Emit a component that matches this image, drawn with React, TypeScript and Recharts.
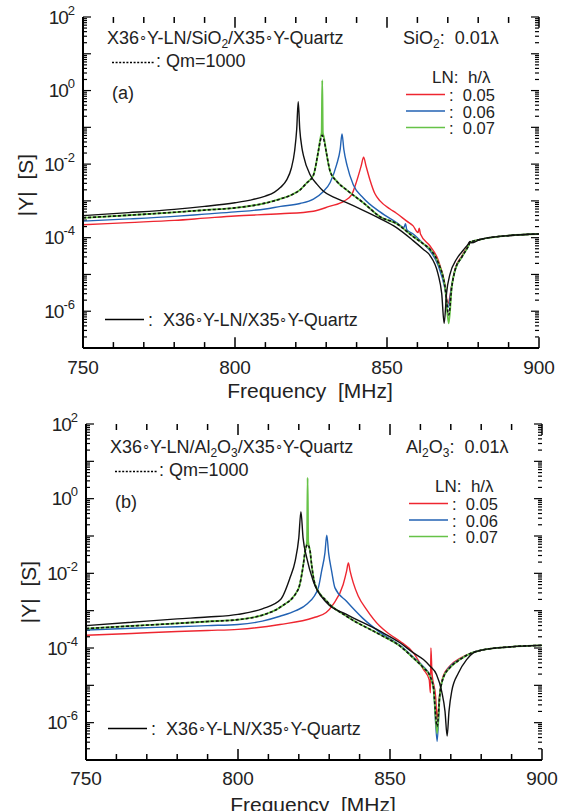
import React from "react";
import { LineChart, Line, XAxis, YAxis, ReferenceLine } from "recharts";

// panel (a): X36Y-LN / SiO2 / X35Y-Quartz   (log10 |Y| in S)
const fA_black = [750, 765, 780, 790, 800, 805, 810, 813, 815, 817, 818.5, 819.6, 820.3, 820.8, 821.3, 822, 822.5, 824.7, 827, 829, 833, 836.7, 842, 847.7, 853, 858.6, 862, 864.1, 866.8, 868, 868.8, 869.6, 870.7, 872.9, 875, 876.8, 877.3, 877.8, 880.6, 890.5, 900];
const lgA_black = [-3.4, -3.32, -3.23, -3.15, -3.05, -2.98, -2.87, -2.76, -2.63, -2.43, -2.12, -1.65, -1.05, -0.3, -1.05, -1.55, -1.76, -2.29, -2.55, -2.73, -2.92, -3.05, -3.25, -3.48, -3.72, -4.08, -4.32, -4.48, -4.99, -5.52, -6.33, -5.5, -5.0, -4.58, -4.35, -4.16, -4.1, -4.14, -4.05, -3.94, -3.9];

const fA_07 = [750, 765, 780, 790, 800, 810, 815.9, 819, 821.4, 823.5, 825.8, 827.4, 828.2, 828.5, 828.7, 828.9, 829.2, 830, 831.3, 833.5, 836.7, 842.2, 847.7, 853.2, 858.6, 862, 864.1, 866.8, 869.1, 870.3, 871.3, 872.4, 874.6, 876.8, 877.3, 880.6, 890.5, 900];
const lgA_07 = [-3.46, -3.39, -3.31, -3.25, -3.19, -3.06, -2.92, -2.82, -2.7, -2.52, -2.3, -1.66, -1.25, -1.15, 0.28, -1.15, -1.25, -1.66, -2.2, -2.47, -2.7, -3.05, -3.43, -3.62, -3.97, -4.17, -4.31, -4.67, -5.34, -6.33, -5.34, -4.88, -4.53, -4.22, -4.13, -4.05, -3.94, -3.9];

const fA_qm = [750, 765, 780, 790, 800, 810, 815.9, 819, 821.4, 823.5, 825.8, 827.4, 828.2, 828.7, 829.2, 830, 831.3, 833.5, 836.7, 842.2, 847.7, 853.2, 858.6, 862, 864.1, 866.8, 869.1, 870.3, 871.3, 872.4, 874.6, 876.8, 877.3, 880.6, 890.5, 900];
const lgA_qm = [-3.46, -3.39, -3.31, -3.25, -3.19, -3.06, -2.92, -2.82, -2.7, -2.52, -2.3, -1.66, -1.32, -1.22, -1.32, -1.66, -2.2, -2.47, -2.7, -3.05, -3.43, -3.62, -3.97, -4.17, -4.31, -4.67, -5.34, -6.1, -5.34, -4.88, -4.53, -4.22, -4.13, -4.05, -3.94, -3.9];

const fA_06 = [750, 765, 780, 790, 800, 810, 815, 821.4, 825.8, 829, 831.3, 833.4, 834.6, 835.2, 835.8, 836.9, 838.9, 842.2, 847.7, 853, 855.6, 856.1, 856.5, 858.6, 862, 864.1, 866.8, 869.1, 870.1, 871.3, 872.4, 874.6, 876.8, 877.3, 880.6, 890.5, 900];
const lgA_06 = [-3.55, -3.49, -3.42, -3.36, -3.3, -3.22, -3.15, -3.07, -2.95, -2.75, -2.5, -2.02, -1.6, -1.18, -1.6, -2.05, -2.56, -2.92, -3.3, -3.58, -3.72, -3.62, -3.78, -3.9, -4.17, -4.35, -4.75, -5.4, -5.9, -5.3, -4.88, -4.53, -4.22, -4.13, -4.05, -3.94, -3.9];

const fA_05 = [750, 765, 780, 790, 800, 815, 825.8, 831, 836, 838.4, 840, 841.5, 842.3, 843.1, 844.4, 846, 847.7, 851, 853, 856.5, 858.6, 860.2, 860.6, 861, 864.1, 866.8, 869.1, 870, 871.3, 872.4, 874.6, 876.8, 877.3, 880.6, 890.5, 900];
const lgA_05 = [-3.65, -3.59, -3.53, -3.47, -3.41, -3.35, -3.28, -3.15, -3.0, -2.83, -2.47, -2.05, -1.81, -2.05, -2.43, -2.8, -3.0, -3.22, -3.33, -3.55, -3.68, -3.86, -3.74, -3.9, -4.22, -4.6, -5.3, -5.8, -5.3, -4.85, -4.5, -4.2, -4.13, -4.05, -3.94, -3.9];

// panel (b): X36Y-LN / Al2O3 / X35Y-Quartz
const fB_black = [750, 765, 780, 790, 800, 808, 814, 817.1, 818.8, 820.0, 820.7, 821.4, 822.6, 824.8, 829.2, 835.7, 846.7, 853.3, 857.7, 861, 863.2, 865.3, 867, 868.1, 868.8, 869.4, 870.3, 872.5, 875.2, 877.4, 880, 889.5, 900];
const lgB_black = [-3.4, -3.31, -3.22, -3.17, -3.1, -2.95, -2.7, -2.12, -1.67, -1.05, -0.35, -1.05, -1.58, -2.22, -2.79, -3.1, -3.55, -3.86, -4.13, -4.31, -4.49, -4.71, -5.16, -5.7, -6.36, -5.7, -5.16, -4.67, -4.31, -4.13, -4.06, -3.97, -3.93];

const fB_07 = [750, 765, 780, 790, 800, 808, 814, 819.8, 821.5, 822.1, 822.7, 822.9, 823.1, 823.7, 824.2, 825.3, 829.2, 835.7, 846.7, 853.3, 857.7, 861, 863.2, 864.3, 865.5, 866.4, 867.5, 869.7, 873, 876.9, 880, 889.5, 900];
const lgB_07 = [-3.48, -3.41, -3.34, -3.29, -3.24, -3.12, -2.9, -2.43, -1.76, -1.4, -1.15, 0.56, -1.15, -1.4, -1.76, -2.29, -2.75, -3.15, -3.64, -3.95, -4.27, -4.53, -4.76, -5.07, -6.28, -5.24, -4.8, -4.53, -4.31, -4.13, -4.06, -3.97, -3.93];

const fB_qm = [750, 765, 780, 790, 800, 808, 814, 819.8, 821.5, 822.1, 822.9, 823.7, 824.2, 825.3, 829.2, 835.7, 846.7, 853.3, 857.7, 861, 863.2, 864.3, 865.5, 866.4, 867.5, 869.7, 873, 876.9, 880, 889.5, 900];
const lgB_qm = [-3.48, -3.41, -3.34, -3.29, -3.24, -3.12, -2.9, -2.43, -1.76, -1.4, -1.23, -1.4, -1.76, -2.29, -2.75, -3.15, -3.64, -3.95, -4.27, -4.53, -4.76, -5.07, -6.1, -5.24, -4.8, -4.53, -4.31, -4.13, -4.06, -3.97, -3.93];

const fB_06 = [750, 765, 780, 790, 800, 808, 813.8, 819, 822.6, 826.4, 827.5, 828.6, 829.2, 829.8, 830.8, 831.9, 835.7, 841, 846.7, 853.3, 857.7, 861, 863.2, 864.3, 865.5, 866.4, 867.5, 869.7, 873, 876.9, 880, 889.5, 900];
const lgB_06 = [-3.52, -3.47, -3.43, -3.4, -3.37, -3.28, -3.15, -3.0, -2.83, -2.39, -1.94, -1.45, -0.98, -1.45, -1.94, -2.39, -2.75, -3.2, -3.58, -3.93, -4.25, -4.5, -4.75, -5.05, -6.5, -5.24, -4.8, -4.5, -4.3, -4.13, -4.06, -3.97, -3.93];

const fB_05 = [750, 765, 780, 790, 800, 813.8, 824.8, 829, 831.3, 834.6, 835.7, 836.3, 836.9, 837.9, 839.5, 842.3, 846.7, 850, 853.3, 857.7, 861, 862.9, 863.3, 863.45, 863.8, 865.0, 865.5, 866.4, 867.5, 869.7, 873, 876.9, 880, 889.5, 900];
const lgB_05 = [-3.66, -3.61, -3.56, -3.53, -3.5, -3.37, -3.19, -3.05, -2.83, -2.3, -1.95, -1.72, -1.95, -2.25, -2.6, -2.97, -3.42, -3.64, -3.82, -4.13, -4.57, -4.85, -5.2, -4.0, -4.65, -5.3, -5.9, -5.2, -4.75, -4.48, -4.28, -4.13, -4.06, -3.97, -3.93];

const xMajor = [750, 800, 850, 900];
const xMinor = [760, 770, 780, 790, 810, 820, 830, 840, 860, 870, 880, 890];
const decades = [-7, -6, -5, -4, -3, -2, -1, 0, 1, 2];
const labelledExp = [2, 0, -2, -4, -6];

const RED = "#ee2630";
const BLUE = "#2262b3";
const GREEN = "#66c247";
const FONT = "'Liberation Sans', Arial, sans-serif";
const PRE = { whiteSpace: "pre" as const };

const X0 = 750, X1 = 900, Y0 = 1e-7, Y1 = 100;
const PX_PER_MHZ = 456 / 150;
const PX_PER_DECADE = 335 / 9;

const pts = (f: number[], lg: number[]) => f.map((v, i) => ({ f: v, y: 10 ** lg[i] }));

const yMajor = decades.map((d) => 10 ** d);
const yMinor: number[] = [];
decades.slice(0, -1).forEach((d) => {
  for (let m = 2; m <= 9; m++) yMinor.push(m * 10 ** d);
});

// inward frame ticks as short reference segments (length in px -> data units)
type Seg = { k: string; a: { x: number; y: number }; b: { x: number; y: number }; w: number };
const frameTicks: Seg[] = [];
const dy = (px: number) => 10 ** (px / PX_PER_DECADE);
const dx = (px: number) => px / PX_PER_MHZ;
[...xMajor.map((v) => [v, 11]), ...xMinor.map((v) => [v, 6])].forEach(([v, len]) => {
  frameTicks.push({ k: `xb${v}`, a: { x: v, y: Y0 }, b: { x: v, y: Y0 * dy(len) }, w: 1.5 });
  frameTicks.push({ k: `xt${v}`, a: { x: v, y: Y1 }, b: { x: v, y: Y1 / dy(len) }, w: 1.5 });
});
[...yMajor.map((v) => [v, 8]), ...yMinor.map((v) => [v, 4])].forEach(([v, len]) => {
  frameTicks.push({ k: `yl${v}`, a: { x: X0, y: v }, b: { x: X0 + dx(len), y: v }, w: 1.2 });
  frameTicks.push({ k: `yr${v}`, a: { x: X1, y: v }, b: { x: X1 - dx(len), y: v }, w: 1.2 });
});

const XLabel = (props: any) => {
  const { x, y, payload } = props;
  return (
    <text x={x} y={y} textAnchor="middle" fontSize={19} fontFamily={FONT} fill="#222">
      {payload.value}
    </text>
  );
};

const YLabel = (props: any) => {
  const { x, y, payload } = props;
  const e = Math.round(Math.log10(payload.value));
  if (!labelledExp.includes(e)) return <g />;
  return (
    <text x={x} y={y + 6.5} textAnchor="end" fontSize={19} fontFamily={FONT} fill="#222" letterSpacing={-1}>
      10
      <tspan dy={-9} fontSize={13} letterSpacing={0}>
        {e}
      </tspan>
    </text>
  );
};

const noTick = () => <g />;

function Panel({ series, margin, yWidth, height, labelDy }: any) {
  const axisLine = { stroke: "#000", strokeWidth: 2 };
  const xc = { type: "number" as const, dataKey: "f", domain: [X0, X1], allowDataOverflow: true, interval: 0 };
  const yc = { type: "number" as const, scale: "log" as const, domain: [Y0, Y1], allowDataOverflow: true, interval: 0 };
  return (
    <LineChart width={564} height={height} margin={margin}>
      <XAxis xAxisId="b" {...xc} ticks={xMajor} axisLine={axisLine} tickLine={false} tickSize={0}
        tickMargin={labelDy} height={labelDy + 26} tick={XLabel} />
      <XAxis xAxisId="t" orientation="top" {...xc} ticks={xMajor} axisLine={axisLine} tickLine={false} height={0} tick={noTick} />
      <YAxis yAxisId="l" {...yc} ticks={yMajor} axisLine={axisLine} tickLine={false} tickSize={0} tickMargin={8}
        width={yWidth} tick={YLabel} />
      <YAxis yAxisId="r" orientation="right" {...yc} ticks={yMajor} axisLine={axisLine} tickLine={false} width={0} tick={noTick} />
      {frameTicks.map((s) => (
        <ReferenceLine key={s.k} xAxisId="b" yAxisId="l" segment={[s.a, s.b]} stroke="#000" strokeWidth={s.w} ifOverflow="visible" />
      ))}
      {series.map((s: any) => (
        <Line key={s.name} xAxisId="b" yAxisId="l" data={s.data} dataKey="y" type="monotoneX" dot={false}
          stroke={s.color} strokeWidth={s.width} strokeDasharray={s.dash} isAnimationActive={false} />
      ))}
    </LineChart>
  );
}

// rich text: parts are [text, baseline level ("n" normal, "s" subscript, "r" ring)]
const LEVEL: Record<string, { shift: number; size?: number }> = {
  n: { shift: 0 },
  s: { shift: 4, size: 12 },
  r: { shift: -3, size: 13 },
};
function Rich({ parts }: { parts: [string, string][] }) {
  let prev = 0;
  return (
    <>
      {parts.map(([txt, lv], i) => {
        const L = LEVEL[lv];
        const d = L.shift - prev;
        prev = L.shift;
        return (
          <tspan key={i} dy={d} fontSize={L.size}>
            {txt}
          </tspan>
        );
      })}
    </>
  );
}

function Annotations({ ox, oy, mat, tag }: any) {
  const t = (x: number, y: number) => ({ x: x + ox, y: y + oy, style: PRE });
  const legend = [
    { c: RED, v: "0.05", y: 94.5 },
    { c: BLUE, v: "0.06", y: 111 },
    { c: GREEN, v: "0.07", y: 127.5 },
  ];
  return (
    <g fontFamily={FONT} fill="#222" fontSize={18}>
      <text {...t(107, 44)}>
        <Rich parts={[["X36", "n"], ["∘", "r"], ["Y-LN/", "n"], ...mat, ["/X35", "n"], ["∘", "r"], ["Y-Quartz", "n"]]} />
      </text>
      <text {...t(403, 44)}>
        <Rich parts={[...mat, [":  0.01λ", "n"]]} />
      </text>
      <line x1={112 + ox} x2={155 + ox} y1={62.5 + oy} y2={62.5 + oy} stroke="#000" strokeWidth={1.5} strokeDasharray="2 1.6" />
      <text {...t(156, 67)}>: Qm=1000</text>
      <text {...t(112, 99)}>{tag}</text>
      <text {...t(432, 83)} fontSize={17}>LN:  h/λ</text>
      {legend.map((l) => (
        <g key={l.v}>
          <line x1={406 + ox} x2={445 + ox} y1={l.y + oy} y2={l.y + oy} stroke={l.c} strokeWidth={1.6} />
          <text {...t(449, l.y + 6.5)} fontSize={16.5}>:  {l.v}</text>
        </g>
      ))}
      <line x1={105 + ox} x2={144 + ox} y1={319.5 + oy} y2={319.5 + oy} stroke="#000" strokeWidth={1.6} />
      <text {...t(148, 326)}>
        <Rich parts={[[":  X36", "n"], ["∘", "r"], ["Y-LN/X35", "n"], ["∘", "r"], ["Y-Quartz", "n"]]} />
      </text>
    </g>
  );
}

const matA: [string, string][] = [["SiO", "n"], ["2", "s"]];
const matB: [string, string][] = [["Al", "n"], ["2", "s"], ["O", "n"], ["3", "s"]];

export default function App() {
  const seriesA = [
    { name: "r", data: pts(fA_05, lgA_05), color: RED, width: 1.4 },
    { name: "b", data: pts(fA_06, lgA_06), color: BLUE, width: 1.4 },
    { name: "g", data: pts(fA_07, lgA_07), color: GREEN, width: 1.8 },
    { name: "q", data: pts(fA_qm, lgA_qm), color: "#111", width: 1.6, dash: "3 2" },
    { name: "k", data: pts(fA_black, lgA_black), color: "#111", width: 1.4 },
  ];
  const seriesB = [
    { name: "r", data: pts(fB_05, lgB_05), color: RED, width: 1.4 },
    { name: "b", data: pts(fB_06, lgB_06), color: BLUE, width: 1.4 },
    { name: "g", data: pts(fB_07, lgB_07), color: GREEN, width: 1.8 },
    { name: "q", data: pts(fB_qm, lgB_qm), color: "#111", width: 1.6, dash: "3 2" },
    { name: "k", data: pts(fB_black, lgB_black), color: "#111", width: 1.4 },
  ];
  return (
    <div style={{ position: "absolute", left: 0, top: 0, width: 564, height: 811, background: "#fff", overflow: "hidden" }}>
      <div style={{ position: "absolute", left: 0, top: 0 }}>
        <Panel series={seriesA} margin={{ top: 17, right: 25, left: 0, bottom: 0 }} yWidth={83} height={400} labelDy={26} />
      </div>
      <div style={{ position: "absolute", left: 0, top: 400 }}>
        <Panel series={seriesB} margin={{ top: 24, right: 22, left: 0, bottom: 0 }} yWidth={86} height={411} labelDy={25} />
      </div>
      <svg width={564} height={811} style={{ position: "absolute", left: 0, top: 0, pointerEvents: "none" }}>
        <Annotations ox={0} oy={0} mat={matA} tag="(a)" />
        <Annotations ox={3} oy={409} mat={matB} tag="(b)" />
        <g fontFamily={FONT} fill="#222" fontSize={21}>
          <text x={310} y={398} textAnchor="middle" style={PRE}>Frequency  [MHz]</text>
          <text x={313} y={812} textAnchor="middle" style={PRE}>Frequency  [MHz]</text>
          <text transform="translate(33 185) rotate(-90)" textAnchor="middle" style={PRE}>|Y|  [S]</text>
          <text transform="translate(36 592) rotate(-90)" textAnchor="middle" style={PRE}>|Y|  [S]</text>
        </g>
      </svg>
    </div>
  );
}
